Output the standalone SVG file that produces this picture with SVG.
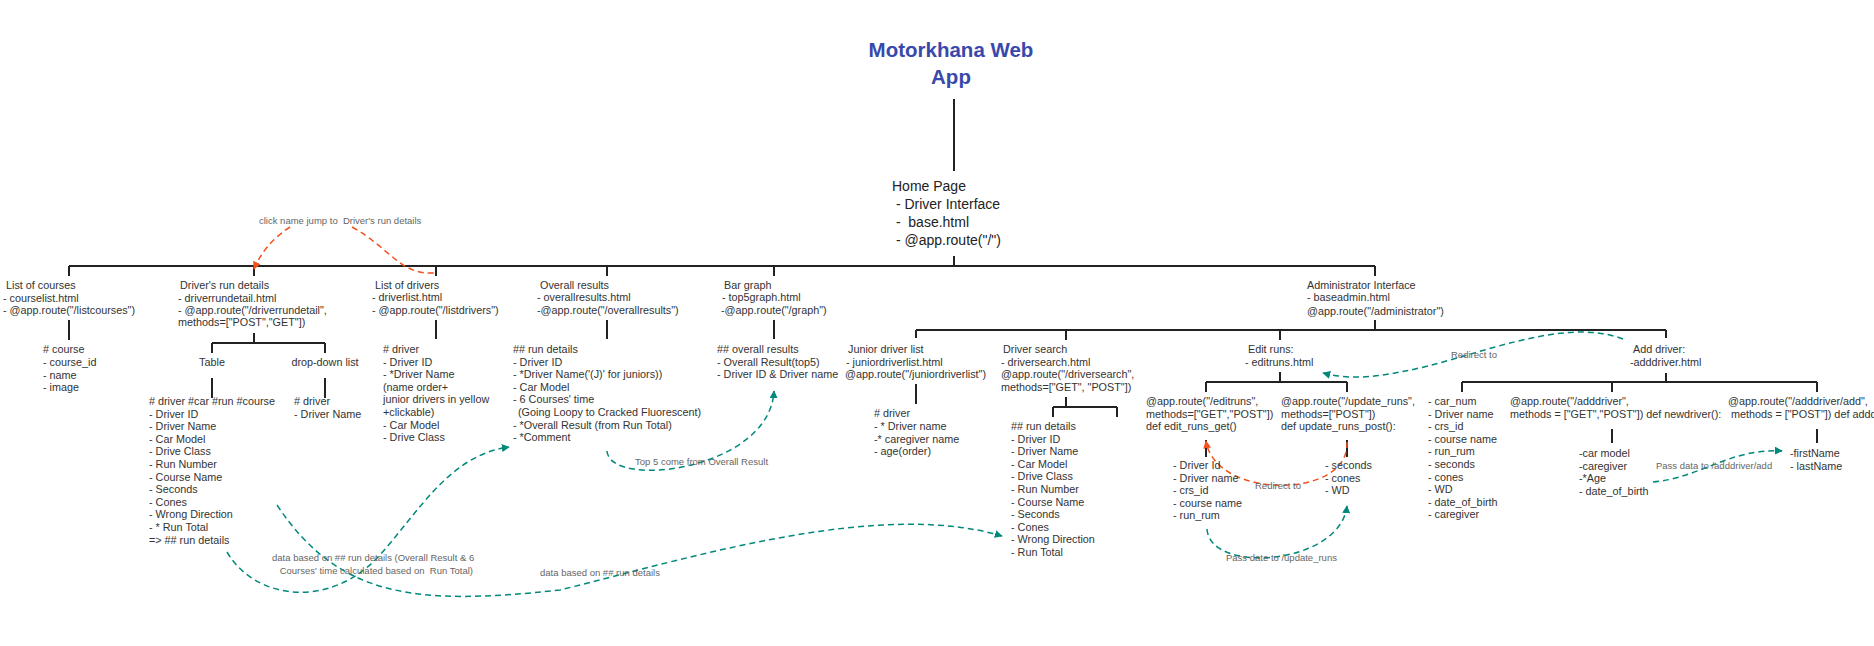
<svg xmlns="http://www.w3.org/2000/svg" width="1874" height="646" viewBox="0 0 1874 646">
<defs>
<style>
text{font-family:"Liberation Sans",Arial,sans-serif;font-size:10.8px;fill:#333}
.h{font-size:14px;fill:#222}
.title{font-weight:bold;font-size:20.5px;fill:#3949AB}
.lbl{font-size:9.5px;fill:#666}
.ln{stroke:#222;stroke-width:2;fill:none}
.tl{stroke:#00897B;stroke-width:1.5;stroke-dasharray:6 4;fill:none}
.rd{stroke:#F4511E;stroke-width:1.5;stroke-dasharray:6 4;fill:none}
</style>
<marker id="at" viewBox="0 0 10 10" refX="9" refY="5" markerWidth="8" markerHeight="8" markerUnits="userSpaceOnUse" orient="auto"><path d="M0,0 L10,5 L0,10 Z" fill="#00897B"/></marker>
<marker id="ar" viewBox="0 0 10 10" refX="9" refY="5" markerWidth="8" markerHeight="8" markerUnits="userSpaceOnUse" orient="auto"><path d="M0,0 L10,5 L0,10 Z" fill="#F4511E"/></marker>
</defs>
<rect width="1874" height="646" fill="#fff"/>
<g id="connectors">
<path class="ln" d="M954,99V171M954,256V266M69,266H1375M69,266V276M254,266V276M436,266V276M607,266V276M774,266V276M1375,266V276"/>
<path class="ln" d="M69,320V340M254,333V343M212,343H325M212,343V353M325,343V353M212,378V398M325,378V398M436,320V339M607,320V339M774,320V339"/>
<path class="ln" d="M1375,320V330M916,330H1666M916,330V338M1066,330V340M1280,330V340M1666,330V338M916,384V404M1066,397V407M1053,407H1117M1053,407V417M1117,407V417"/>
<path class="ln" d="M1280,372V382M1206,382H1347M1206,382V392M1347,382V392M1206,440V457M1347,440V457M1666,373V382M1462,382H1817M1462,382V392M1612,382V392M1817,382V392M1612,429V443M1817,429V443"/>
<path class="rd" d="M290,227C270,240 260,255 254,269" marker-end="url(#ar)"/>
<path class="rd" d="M352,227C390,248 400,275 434,273"/>
<path class="tl" d="M227,552C255,600 330,610 380,555C420,510 450,455 509,447" marker-end="url(#at)"/>
<path class="tl" d="M277,505C340,600 420,605 560,590C700,555 880,500 1002,536" marker-end="url(#at)"/>
<path class="tl" d="M607,451C610,490 770,470 774,391" marker-end="url(#at)"/>
<path class="rd" d="M1347,442C1350,500 1215,500 1206,441" marker-end="url(#ar)"/>
<path class="tl" d="M1207,529C1210,575 1340,565 1347,506" marker-end="url(#at)"/>
<path class="tl" d="M1623,339C1560,315 1470,360 1400,372C1375,377 1350,380 1323,373" marker-end="url(#at)"/>
<path class="tl" d="M1653,482C1700,478 1730,448 1782,451" marker-end="url(#at)"/>
</g>
<g id="labels">
<text class="lbl" x="259" y="224" xml:space="preserve">click name jump to  Driver's run details</text>
<text class="lbl" x="272" y="561">data based on ## run details (Overall Result &amp; 6</text>
<text class="lbl" x="277" y="574" xml:space="preserve"> Courses' time calculated based on  Run Total)</text>
<text class="lbl" x="540" y="576">data based on ## run details</text>
<text class="lbl" x="635" y="465">Top 5 come from Overall Result</text>
<text class="lbl" x="1255" y="489">Redirect to</text>
<text class="lbl" x="1226" y="561">Pass date to /update_runs</text>
<text class="lbl" x="1451" y="358">Redirect to</text>
<text class="lbl" x="1656" y="469">Pass data to /adddriver/add</text>
</g>
<g id="title"><text class="title" text-anchor="middle" x="951" y="57">Motorkhana Web</text><text class="title" text-anchor="middle" x="951" y="84">App</text></g>
<g id="home"><text class="h" xml:space="preserve"><tspan x="892" y="191">Home Page</tspan><tspan x="892" y="209"> - Driver Interface</tspan><tspan x="892" y="227"> -  base.html</tspan><tspan x="892" y="245"> - @app.route("/")</tspan></text></g>
<g id="list-courses"><text><tspan x="6" y="289">List of courses</tspan><tspan x="3" y="302">- courselist.html</tspan><tspan x="3" y="314">- @app.route("/listcourses")</tspan></text></g>
<g id="course-fields"><text><tspan x="43" y="353">  # course</tspan><tspan x="43" y="366">- course_id</tspan><tspan x="43" y="379">- name</tspan><tspan x="43" y="391">- image</tspan></text></g>
<g id="driver-run"><text><tspan x="180" y="289">Driver's run details</tspan><tspan x="178" y="302">- driverrundetail.html</tspan><tspan x="178" y="314">- @app.route("/driverrundetail",</tspan><tspan x="178" y="326">methods=["POST","GET"])</tspan></text></g>
<g id="table"><text text-anchor="middle" x="212" y="366">Table</text></g>
<g id="dropdown"><text text-anchor="middle" x="325" y="366">drop-down list</text></g>
<g id="table-fields"><text><tspan x="149" y="405"># driver #car #run #course</tspan><tspan x="149" y="417.6">- Driver ID</tspan><tspan x="149" y="430.2">- Driver Name</tspan><tspan x="149" y="442.8">- Car Model</tspan><tspan x="149" y="455.4">- Drive Class</tspan><tspan x="149" y="468">- Run Number</tspan><tspan x="149" y="480.6">- Course Name</tspan><tspan x="149" y="493.2">- Seconds</tspan><tspan x="149" y="505.8">- Cones</tspan><tspan x="149" y="518.4">- Wrong Direction</tspan><tspan x="149" y="531">- * Run Total</tspan><tspan x="149" y="543.6">=&gt; ## run details</tspan></text></g>
<g id="dropdown-fields"><text><tspan x="294" y="405"># driver</tspan><tspan x="294" y="417.6">- Driver Name</tspan></text></g>
<g id="list-drivers"><text><tspan x="375" y="289">List of drivers</tspan><tspan x="372" y="301">- driverlist.html</tspan><tspan x="372" y="314">- @app.route("/listdrivers")</tspan></text></g>
<g id="driver-fields"><text><tspan x="383" y="353"># driver</tspan><tspan x="383" y="365.6">- Driver ID</tspan><tspan x="383" y="378.2">- *Driver Name</tspan><tspan x="383" y="390.8">(name order+</tspan><tspan x="383" y="403.4">junior drivers in yellow</tspan><tspan x="383" y="416">+clickable)</tspan><tspan x="383" y="428.6">- Car Model</tspan><tspan x="383" y="441.2">- Drive Class</tspan></text></g>
<g id="overall"><text><tspan x="540" y="289">Overall results</tspan><tspan x="537" y="301">- overallresults.html</tspan><tspan x="537" y="314">-@app.route("/overallresults")</tspan></text></g>
<g id="overall-fields"><text><tspan x="513" y="353">## run details</tspan><tspan x="513" y="365.6">- Driver ID</tspan><tspan x="513" y="378.2">- *Driver Name('(J)' for juniors))</tspan><tspan x="513" y="390.8">- Car Model</tspan><tspan x="513" y="403.4">- 6 Courses' time</tspan><tspan x="518" y="416">(Going Loopy to Cracked Fluorescent)</tspan><tspan x="513" y="428.6">- *Overall Result (from Run Total)</tspan><tspan x="513" y="441.2">- *Comment</tspan></text></g>
<g id="bar"><text><tspan x="724" y="289">Bar graph</tspan><tspan x="722" y="301">- top5graph.html</tspan><tspan x="721" y="314">-@app.route("/graph")</tspan></text></g>
<g id="bar-fields"><text><tspan x="717" y="353">## overall results</tspan><tspan x="717" y="365.6">- Overall Result(top5)</tspan><tspan x="717" y="378.2">- Driver ID &amp; Driver name</tspan></text></g>
<g id="admin"><text><tspan x="1307" y="289">Administrator Interface</tspan><tspan x="1307" y="301">- baseadmin.html</tspan><tspan x="1307" y="315">@app.route("/administrator")</tspan></text></g>
<g id="junior"><text><tspan x="848" y="353">Junior driver list</tspan><tspan x="846" y="366">- juniordriverlist.html</tspan><tspan x="845" y="378">@app.route("/juniordriverlist")</tspan></text></g>
<g id="junior-fields"><text><tspan x="874" y="417"># driver</tspan><tspan x="874" y="430">- * Driver name</tspan><tspan x="874" y="443">-* caregiver name</tspan><tspan x="874" y="455">- age(order)</tspan></text></g>
<g id="search"><text><tspan x="1003" y="353">Driver search</tspan><tspan x="1001" y="366">- driversearch.html</tspan><tspan x="1001" y="378">@app.route("/driversearch",</tspan><tspan x="1001" y="391">methods=["GET", "POST"])</tspan></text></g>
<g id="search-fields"><text><tspan x="1011" y="430">## run details</tspan><tspan x="1011" y="442.6">- Driver ID</tspan><tspan x="1011" y="455.2">- Driver Name</tspan><tspan x="1011" y="467.8">- Car Model</tspan><tspan x="1011" y="480.4">- Drive Class</tspan><tspan x="1011" y="493">- Run Number</tspan><tspan x="1011" y="505.6">- Course Name</tspan><tspan x="1011" y="518.2">- Seconds</tspan><tspan x="1011" y="530.8">- Cones</tspan><tspan x="1011" y="543.4">- Wrong Direction</tspan><tspan x="1011" y="556">- Run Total</tspan></text></g>
<g id="editruns"><text><tspan x="1248" y="353">Edit runs:</tspan><tspan x="1245" y="366">- editruns.html</tspan></text></g>
<g id="editruns-get"><text><tspan x="1146" y="405">@app.route("/editruns",</tspan><tspan x="1146" y="417.6">methods=["GET","POST"])</tspan><tspan x="1146" y="430.2">def edit_runs_get()</tspan></text></g>
<g id="update-runs"><text><tspan x="1281" y="405">@app.route("/update_runs",</tspan><tspan x="1281" y="417.6">methods=["POST"])</tspan><tspan x="1281" y="430.2">def update_runs_post():</tspan></text></g>
<g id="editruns-fields"><text><tspan x="1173" y="469">- Driver Id</tspan><tspan x="1173" y="481.6">- Driver name</tspan><tspan x="1173" y="494.2">- crs_id</tspan><tspan x="1173" y="506.8">- course name</tspan><tspan x="1173" y="519.4">- run_rum</tspan></text></g>
<g id="update-fields"><text><tspan x="1325" y="469">- seconds</tspan><tspan x="1325" y="481.6">- cones</tspan><tspan x="1325" y="494.2">- WD</tspan></text></g>
<g id="adddriver"><text><tspan x="1633" y="353">Add driver:</tspan><tspan x="1630" y="366">-adddriver.html</tspan></text></g>
<g id="adddriver-fields"><text><tspan x="1428" y="405">- car_num</tspan><tspan x="1428" y="417.6">- Driver name</tspan><tspan x="1428" y="430.2">- crs_id</tspan><tspan x="1428" y="442.8">- course name</tspan><tspan x="1428" y="455.4">- run_rum</tspan><tspan x="1428" y="468">- seconds</tspan><tspan x="1428" y="480.6">- cones</tspan><tspan x="1428" y="493.2">- WD</tspan><tspan x="1428" y="505.8">- date_of_birth</tspan><tspan x="1428" y="518.4">- caregiver</tspan></text></g>
<g id="newdriver"><text><tspan x="1510" y="405">@app.route("/adddriver",</tspan><tspan x="1510" y="417.6">methods = ["GET","POST"]) def newdriver():</tspan></text></g>
<g id="newdriver-fields"><text><tspan x="1579" y="457">-car model</tspan><tspan x="1579" y="469.6">-caregiver</tspan><tspan x="1579" y="482.2">-*Age</tspan><tspan x="1579" y="494.8">- date_of_birth</tspan></text></g>
<g id="adddriver-add"><text><tspan x="1728" y="405">@app.route("/adddriver/add",</tspan><tspan x="1731" y="417.6">methods = ["POST"]) def adddriver():</tspan></text></g>
<g id="add-fields"><text><tspan x="1790" y="457">-firstName</tspan><tspan x="1790" y="469.6">- lastName</tspan></text></g>
</svg>
